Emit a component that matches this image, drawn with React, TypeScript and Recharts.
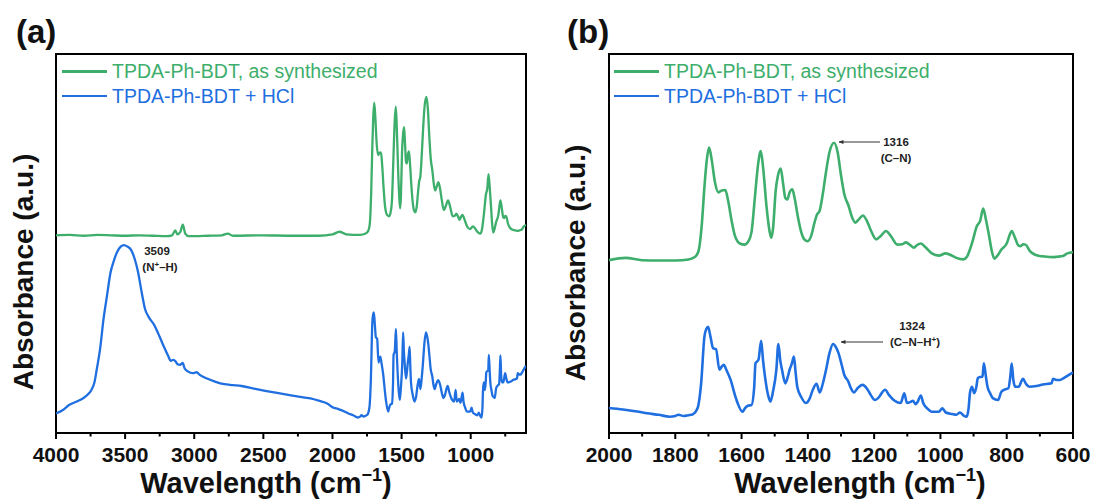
import { LineChart, Line, XAxis, YAxis, ReferenceArea } from 'recharts'

const FONT = '"Liberation Sans", Arial, Helvetica, sans-serif'
const GREEN = '#3dae6b'
const BLUE = '#1f6fe0'

// FTIR spectra, wavenumber (cm-1) from high to low, absorbance in arbitrary units
const synthWn = [
  4000, 3900, 3800, 3700, 3600, 3500, 3400, 3300, 3200, 3160, 3137, 3122, 3100, 3083, 3065, 3040, 2900, 2800, 2758, 2720,
  2500, 2300, 2100, 2000, 1950, 1900, 1850, 1800, 1760, 1740, 1730, 1720, 1712, 1705, 1698, 1690, 1680, 1670, 1660, 1649,
  1640, 1630, 1620, 1605, 1591, 1580, 1570, 1560, 1550, 1542, 1535, 1525, 1515, 1510, 1505, 1497, 1490, 1482, 1475, 1468,
  1462, 1455, 1447, 1440, 1430, 1420, 1410, 1401, 1390, 1380, 1372, 1365, 1355, 1345, 1335, 1321, 1310, 1300, 1290, 1277,
  1267, 1257, 1245, 1234, 1222, 1210, 1194, 1180, 1164, 1150, 1130, 1115, 1104, 1090, 1080, 1070, 1059, 1045, 1026, 1005,
  984, 965, 952, 931, 920, 905, 890, 880, 871, 862, 853, 845, 837, 828, 816, 800, 790, 785, 775, 765,
  758, 750, 743, 730, 716, 700, 690, 660, 648, 630, 617, 600,
]
const synthAbs = [
  45.4, 45.5, 45.3, 45.5, 45.4, 45.3, 45.4, 45.3, 45.2, 45.4, 46.5, 45.6, 46.2, 47.8, 45.8, 45.2, 45.3, 45.4, 45.8, 45.3,
  45.4, 45.3, 45.3, 45.6, 46.2, 45.6, 45.5, 45.5, 45.8, 46.5, 48, 55, 65, 72, 75.3, 72, 66, 63.5, 64, 64.1,
  61, 56, 52, 50, 49.7, 50.5, 53, 62, 71, 74.4, 70, 60, 53, 51.5, 54, 64, 68, 69.8, 66, 62,
  61.6, 63.5, 64.3, 62, 57, 53, 51, 50.6, 52, 55.5, 57.7, 58.5, 63, 69, 74, 76.6, 74, 68, 63, 59.9,
  57, 55.5, 56.5, 57.4, 56, 53.5, 51.1, 52, 53.3, 52, 49.7, 49.8, 50.3, 49.5, 48.9, 49.6, 50, 49, 47.4, 46.8,
  47.4, 46.8, 46.2, 45.8, 46.5, 50, 54.6, 56, 59.2, 56, 51.9, 48, 46, 46.8, 48.4, 50, 52.5, 53.3, 51.5, 49.5,
  49.3, 49.8, 49.7, 48, 47.1, 46.7, 46.6, 46.4, 46.5, 46.7, 47.4, 47.7,
]

const hclWn = [
  4000, 3950, 3906, 3850, 3806, 3770, 3744, 3720, 3706, 3680, 3657, 3630, 3607, 3580, 3557, 3530, 3509, 3485, 3457, 3430,
  3407, 3380, 3357, 3330, 3290, 3250, 3220, 3190, 3170, 3150, 3134, 3120, 3100, 3083, 3070, 3046, 3010, 2983, 2960, 2908,
  2850, 2783, 2720, 2658, 2550, 2409, 2300, 2200, 2160, 2100, 2035, 2000, 1958, 1910, 1885, 1850, 1817, 1800, 1790, 1775,
  1760, 1748, 1733, 1722, 1712, 1706, 1701, 1694, 1686, 1677, 1667, 1660, 1654, 1645, 1633, 1620, 1612, 1597, 1590, 1581,
  1570, 1562, 1558, 1549, 1541, 1535, 1528, 1520, 1513, 1505, 1495, 1489, 1483, 1478, 1468, 1460, 1455, 1448, 1442, 1437,
  1432, 1420, 1406, 1395, 1385, 1374, 1364, 1355, 1345, 1335, 1324, 1315, 1308, 1298, 1290, 1278, 1270, 1261, 1250, 1235,
  1220, 1210, 1198, 1185, 1175, 1167, 1155, 1138, 1120, 1109, 1101, 1090, 1083, 1075, 1069, 1059, 1052, 1040, 1026, 1005,
  994, 984, 965, 952, 941, 930, 921, 915, 911, 905, 898, 892, 887, 878, 873, 869, 863, 858, 850, 842,
  826, 816, 805, 795, 789, 785, 780, 774, 764, 751, 742, 732, 710, 691, 665, 660, 650, 639, 628, 615,
  600,
]
const hclAbs = [
  5.2, 6, 7.1, 7.9, 8.6, 9.5, 10.5, 12.5, 15, 20, 26.3, 32, 36.8, 39.8, 41.7, 42.9, 43.2, 42.9, 42.1, 40,
  37.2, 32.5, 28.9, 27, 25.2, 22.5, 20.3, 18.3, 17.1, 17.3, 16.9, 16.3, 16.2, 16.6, 15.4, 14.7, 14.3, 14.5, 13.9, 13.1,
  12.4, 11.8, 11.6, 11.4, 10.7, 9.9, 9.3, 8.8, 8.6, 8.1, 7.4, 6.6, 6.2, 5.6, 5.2, 4.8, 4.3, 4.5, 4.8, 4.5,
  4.7, 4.9, 6.5, 13.1, 25.5, 27.5, 28, 25.5, 22.4, 22.1, 16.7, 17.5, 18, 16.5, 14, 10, 7.9, 5.6, 6.5, 7.2,
  7.4, 12, 18.4, 19.3, 24.3, 19, 14, 10, 8.3, 11, 16.7, 23.5, 19, 16.7, 13.1, 15, 16.7, 18.4, 20.2, 16,
  12.2, 9.5, 7.9, 9, 11.4, 13, 10.7, 13, 16.7, 21, 23.5, 22.6, 21.2, 18, 15.3, 13.6, 11.8, 10.7, 11.8, 12.7,
  11.5, 10, 8.7, 9.5, 10.8, 11.4, 10, 8.5, 7.9, 10.5, 7.9, 8.2, 8.5, 7.6, 8.2, 9.9, 7.9, 6.5, 5.6, 5.6,
  6.5, 5.4, 5, 4.8, 5.4, 4.6, 4.3, 6.5, 10.5, 12.2, 10.5, 12, 14.5, 14.8, 14.9, 18.4, 15, 12.2, 10.5, 9.2,
  8.7, 10.9, 11.5, 11.8, 15, 18.3, 14, 12.2, 12.2, 14.3, 13, 12.2, 12.4, 12.8, 13.1, 14.3, 14, 14, 14.5, 15.2,
  16,
]

const seriesNames = ['TPDA-Ph-BDT, as synthesized', 'TPDA-Ph-BDT + HCl']
const seriesColors = [GREEN, BLUE]

const ticksA = [4000, 3750, 3500, 3250, 3000, 2750, 2500, 2250, 2000, 1750, 1500, 1250, 1000, 750]
const majorA = [4000, 3500, 3000, 2500, 2000, 1500, 1000]
const ticksB = [2000, 1900, 1800, 1700, 1600, 1500, 1400, 1300, 1200, 1100, 1000, 900, 800, 700, 600]
const majorB = [2000, 1800, 1600, 1400, 1200, 1000, 800, 600]

const toPoints = (wn: number[], ab: number[], lo: number, hi: number) =>
  wn.map((w, i) => ({ w, a: ab[i] })).filter(p => p.w >= lo && p.w <= hi)

function makeTick(majors: number[]) {
  return function AxisTick(props: any) {
    const { x, y, payload } = props
    const major = majors.includes(payload.value)
    return (
      <g>
        <line x1={x} x2={x} y1={y} y2={y + (major ? 6 : 3.5)} stroke="#000" strokeWidth={2} />
        {major && (
          <text x={x} y={y + 29} textAnchor="middle" fontFamily={FONT} fontSize={21} fontWeight="bold" fill="#111">
            {payload.value}
          </text>
        )}
      </g>
    )
  }
}

function LegendBox({ left }: { left: number }) {
  return (
    <div style={{ position: 'absolute', left, top: 59, fontFamily: FONT, fontSize: 19.5, lineHeight: '24.5px' }}>
      {seriesNames.map((n, i) => (
        <div key={n} style={{ display: 'flex', alignItems: 'center', color: seriesColors[i] }}>
          <span style={{ width: 45, height: 2.5, background: seriesColors[i], marginRight: 5 }} />
          {n}
        </div>
      ))}
    </div>
  )
}

interface PanelProps {
  xDomain: [number, number]
  yDomain: [number, number]
  ticks: number[]
  majors: number[]
  margin: { top: number; right: number; bottom: number; left: number }
  lineWidth: number
  children?: React.ReactNode
  legendLeft: number
}

function Panel({ xDomain, yDomain, ticks, majors, margin, lineWidth, children, legendLeft }: PanelProps) {
  const synth = toPoints(synthWn, synthAbs, xDomain[0], xDomain[1])
  const hcl = toPoints(hclWn, hclAbs, xDomain[0], xDomain[1])
  return (
    <div style={{ position: 'relative', width: 548, height: 502 }}>
      <LineChart width={548} height={502} margin={margin}>
        <XAxis
          type="number"
          dataKey="w"
          domain={xDomain}
          reversed
          allowDataOverflow
          ticks={ticks}
          interval={0}
          tick={makeTick(majors)}
          tickLine={false}
          axisLine={false}
          tickSize={0}
          tickMargin={0}
          height={69}
        />
        <YAxis type="number" domain={yDomain} allowDataOverflow hide />
        <ReferenceArea x1={xDomain[1]} x2={xDomain[0]} y1={yDomain[0]} y2={yDomain[1]} fill="none" stroke="#000" strokeWidth={2} />
        <Line data={synth} dataKey="a" type="monotone" stroke={GREEN} strokeWidth={lineWidth} dot={false} isAnimationActive={false} />
        <Line data={hcl} dataKey="a" type="monotone" stroke={BLUE} strokeWidth={lineWidth} dot={false} isAnimationActive={false} />
      </LineChart>
      <LegendBox left={legendLeft} />
      <svg width={548} height={502} style={{ position: 'absolute', left: 0, top: 0, pointerEvents: 'none' }} fontFamily={FONT}>
        <defs>
          <marker id={`arr${legendLeft}`} viewBox="0 0 10 10" refX="9" refY="5" markerWidth="5" markerHeight="5" orient="auto-start-reverse">
            <path d="M0,1 L10,5 L0,9 z" fill="#333" />
          </marker>
        </defs>
        {children}
      </svg>
    </div>
  )
}

const annotText = { fontSize: 11.5, fontWeight: 'bold' as const, fill: '#222', textAnchor: 'middle' as const }
const titleText = { fontWeight: 'bold' as const, fill: '#111' }

export default function App() {
  return (
    <div style={{ position: 'absolute', left: 0, top: 0, width: 1096, height: 502, background: '#fff', display: 'flex' }}>
      <Panel
        xDomain={[600, 4000]}
        yDomain={[0.8, 86.3]}
        ticks={ticksA}
        majors={majorA}
        margin={{ top: 54, right: 22, bottom: 0, left: 56 }}
        lineWidth={2.3}
        legendLeft={62}
      >
        <text x={16} y={43} fontSize={33} {...titleText}>(a)</text>
        <text transform="translate(23,272) rotate(-90)" textAnchor="middle" dominantBaseline="central" fontSize={28} {...titleText}>
          Absorbance (a.u.)
        </text>
        <text x={266} y={493} textAnchor="middle" fontSize={29} {...titleText}>
          Wavelength (cm<tspan fontSize={18} dy={-12}>−1</tspan><tspan dy={12}>)</tspan>
        </text>
        <text x={157} y={255} {...annotText}>3509</text>
        <text x={160} y={271} {...annotText}>
          (N<tspan dy={-4} fontSize={8}>+</tspan><tspan dy={4}>–H)</tspan>
        </text>
      </Panel>
      <Panel
        xDomain={[600, 2000]}
        yDomain={[0, 100]}
        ticks={ticksB}
        majors={majorB}
        margin={{ top: 54, right: 23, bottom: 0, left: 61 }}
        lineWidth={2.6}
        legendLeft={66}
      >
        <text x={19} y={43} fontSize={33} {...titleText}>(b)</text>
        <text transform="translate(27,263) rotate(-90)" textAnchor="middle" dominantBaseline="central" fontSize={28} {...titleText}>
          Absorbance (a.u.)
        </text>
        <text x={312} y={493} textAnchor="middle" fontSize={29} {...titleText}>
          Wavelength (cm<tspan fontSize={18} dy={-12}>−1</tspan><tspan dy={12}>)</tspan>
        </text>
        <line x1={332} y1={142} x2={291} y2={142} stroke="#333" strokeWidth={1} markerEnd="url(#arr66)" />
        <text x={348} y={146} {...annotText}>1316</text>
        <text x={348} y={162} {...annotText}>(C–N)</text>
        <line x1={335} y1={342} x2={293} y2={342} stroke="#333" strokeWidth={1} markerEnd="url(#arr66)" />
        <text x={364} y={330} {...annotText}>1324</text>
        <text x={367} y={346} {...annotText}>
          (C–N–H<tspan dy={-4} fontSize={8}>+</tspan><tspan dy={4}>)</tspan>
        </text>
      </Panel>
    </div>
  )
}
